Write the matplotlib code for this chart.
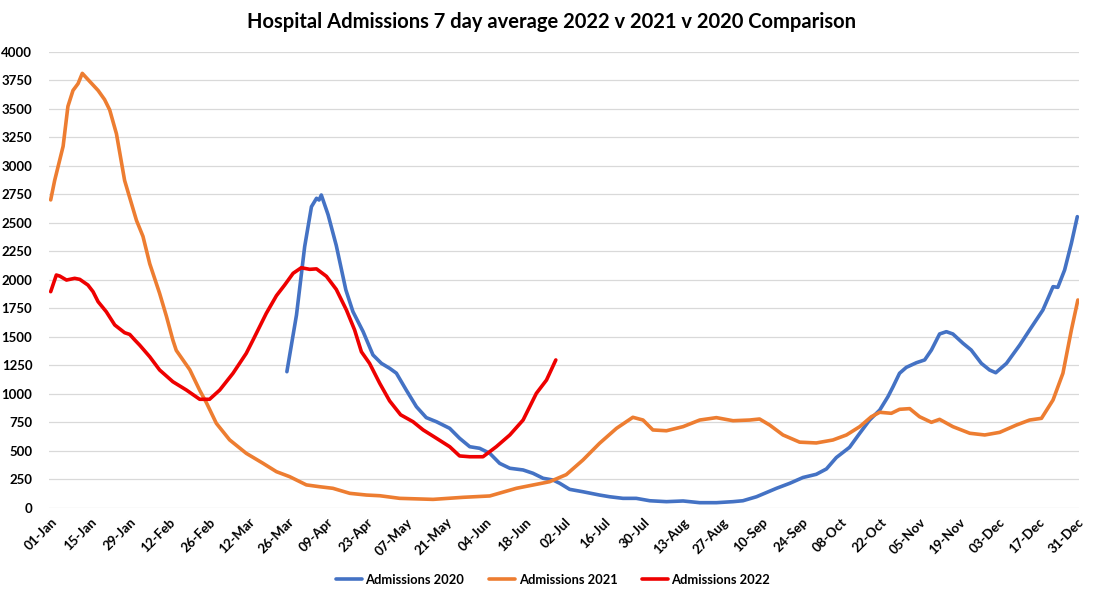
import matplotlib
matplotlib.use("Agg")
import matplotlib.pyplot as plt

# ---- data (day of year, 7-day average admissions) ----
days_2020 = [83.7, 87.1, 90.0, 92.4, 94.2, 95.1, 95.9, 98.3, 101.2, 104.6, 107.1, 110.7,
             114.2, 117.2, 120.1, 122.5, 126.0, 129.6, 133.1, 136.7, 141.4, 144.9, 148.5,
             152.0, 155.6, 159.1, 162.7, 167.4, 170.9, 174.5, 178.0, 180.4, 183.9, 188.6,
             194.5, 198.1, 202.8, 207.5, 212.3, 218.2, 224.1, 230.0, 235.9, 241.8, 245.3,
             250.1, 257.2, 261.9, 266.6, 271.3, 274.9, 278.4, 283.1, 286.7, 290.2, 293.8,
             296.7, 298.5, 300.8, 303.2, 306.8, 309.7, 312.1, 315.0, 317.4, 319.7, 323.3,
             326.2, 329.8, 332.7, 334.9, 338.7, 343.4, 346.9, 351.6, 355.2, 356.9, 359.3,
             361.7, 363.8]
vals_2020 = [1193, 1690, 2290, 2640, 2714, 2699, 2743, 2570, 2300, 1910, 1720, 1545,
             1340, 1266, 1223, 1180, 1032, 886, 790, 754, 696, 609, 535,
             521, 477, 389, 346, 331, 302, 258, 243, 214, 161, 140,
             111, 96, 82, 82, 61, 53, 59, 44, 44, 53, 61,
             96, 170, 214, 265, 293, 340, 440, 530, 653, 769, 857,
             974, 1061, 1179, 1231, 1272, 1296, 1383, 1524, 1544, 1524, 1442,
             1383, 1266, 1208, 1184, 1266, 1427, 1559, 1734, 1939, 1933, 2085,
             2319, 2553]

days_2021 = [0, 1.4, 4.4, 6.1, 7.9, 9.7, 11.2, 13.8, 16.8, 19.1, 20.9, 23.3, 26.2, 30.4,
             32.7, 35.1, 38.6, 41.0, 43.3, 44.5, 49.3, 52.8, 55.2, 58.7, 63.4, 69.3, 75.2,
             80.0, 84.7, 90.6, 95.3, 100.0, 106.0, 111.9, 116.6, 123.7, 135.5, 146.1,
             155.6, 165.0, 170.9, 176.8, 182.7, 188.6, 194.5, 200.5, 206.3, 209.9, 213.4,
             218.2, 224.1, 230.0, 235.9, 241.8, 247.7, 251.2, 254.8, 259.5, 265.4, 271.3,
             277.2, 282.0, 286.7, 290.8, 293.8, 297.9, 300.8, 304.4, 307.9, 312.1, 315.0,
             319.7, 325.7, 331.0, 336.3, 342.2, 346.9, 351.1, 355.2, 358.7, 361.7, 364.0]
vals_2021 = [2700, 2870, 3170, 3520, 3660, 3720, 3810, 3740, 3660, 3580, 3490, 3280, 2870, 2520,
             2380, 2140, 1880, 1680, 1470, 1380, 1210, 1030, 920, 740, 595, 477, 390,
             316, 272, 200, 184, 170, 126, 111, 105, 82, 73, 91,
             103, 170, 199, 228, 290, 418, 565, 696, 793, 769, 682,
             675, 711, 769, 790, 763, 769, 778, 725, 638, 575, 568,
             594, 638, 711, 798, 837, 828, 863, 869, 798, 749, 775,
             711, 653, 638, 661, 725, 769, 784, 945, 1179, 1559, 1822]

days_2022 = [0, 2.0, 3.2, 5.6, 8.5, 10.3, 13.2, 15.0, 16.8, 19.7, 22.7, 26.2, 28.0, 29.8,
             31.5, 35.1, 38.6, 43.3, 48.1, 52.8, 56.3, 59.9, 64.6, 69.3, 71.7, 76.4, 80.0,
             82.9, 85.9, 88.8, 91.8, 94.2, 97.7, 101.2, 104.8, 107.7, 110.1, 113.0, 116.6,
             120.1, 124.0, 128.4, 132.0, 136.7, 141.4, 144.9, 148.5, 153.2, 157.9, 162.7,
             167.4, 172.1, 175.7, 179.0]
vals_2022 = [1895, 2041, 2032, 1997, 2012, 2003, 1953, 1895, 1807, 1719, 1603, 1535, 1520, 1471,
             1427, 1324, 1208, 1105, 1032, 951, 951, 1032, 1179, 1354, 1471, 1705, 1860,
             1953, 2056, 2105, 2091, 2095, 2030, 1915, 1734, 1559, 1368, 1266, 1091,
             937, 815, 754, 682, 609, 535, 454, 447, 447, 535, 638,
             769, 1003, 1120, 1296]

tick_days = list(range(0, 365, 14))
tick_labels = ["01-Jan", "15-Jan", "29-Jan", "12-Feb", "26-Feb", "12-Mar", "26-Mar",
               "09-Apr", "23-Apr", "07-May", "21-May", "04-Jun", "18-Jun", "02-Jul",
               "16-Jul", "30-Jul", "13-Aug", "27-Aug", "10-Sep", "24-Sep", "08-Oct",
               "22-Oct", "05-Nov", "19-Nov", "03-Dec", "17-Dec", "31-Dec"]
y_ticks = list(range(0, 4001, 250))

title = "Hospital Admissions 7 day average 2022 v 2021 v 2020 Comparison"
series_names = ["Admissions 2020", "Admissions 2021", "Admissions 2022"]
colors = ["#4472C4", "#ED7D31", "#EE0000"]

plt.rcParams['font.family'] = ['Lato', 'DejaVu Sans']

fig = plt.figure(figsize=(11.03, 6.0), dpi=100)
ax = fig.add_axes([49 / 1103, 1 - 507.7 / 600, (1079 - 49) / 1103, (507.7 - 51.7) / 600])

ax.plot(days_2020, vals_2020, color=colors[0], lw=2.6, label=series_names[0], solid_capstyle='round')
ax.plot(days_2021, vals_2021, color=colors[1], lw=2.6, label=series_names[1], solid_capstyle='round')
ax.plot(days_2022, vals_2022, color=colors[2], lw=2.6, label=series_names[2], solid_capstyle='round')

ax.set_xlim(-0.6, 364.4)
ax.set_ylim(0, 4000)
ax.set_yticks(y_ticks)
ax.set_yticklabels([str(v) for v in y_ticks], fontsize=9.5, fontweight='bold')
ax.set_xticks(tick_days)
ax.set_xticklabels(tick_labels, rotation=45, ha='right', rotation_mode='anchor',
                   fontsize=9.5, fontweight='bold')
ax.tick_params(axis='y', length=0, pad=12)
ax.tick_params(axis='x', length=0, pad=6)
ax.grid(axis='y', color='#d9d9d9', lw=0.9)
ax.set_axisbelow(True)
for s in ax.spines.values():
    s.set_visible(False)

fig.text(0.5, 1 - 22 / 600, title, ha='center', va='center', fontsize=14.5, fontweight='bold')

fig.legend(loc='center', bbox_to_anchor=(553 / 1103, 1 - 580 / 600), ncol=3, frameon=False,
           prop={'size': 9.3, 'weight': 'bold'}, handlelength=2.0, handletextpad=0.3,
           columnspacing=1.9)

fig.savefig("out.png", dpi=100)
